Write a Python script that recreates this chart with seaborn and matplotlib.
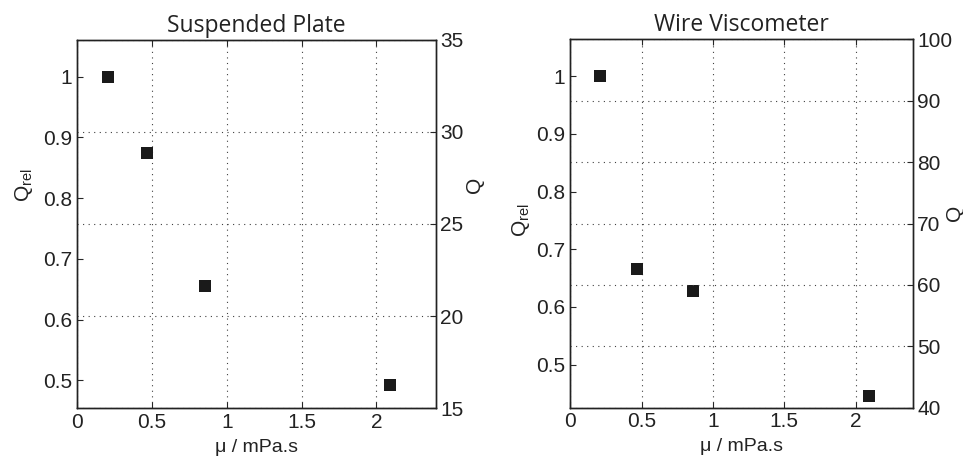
import numpy as np
import pandas as pd
import matplotlib.pyplot as plt
import seaborn as sns
from matplotlib.ticker import FuncFormatter

titles = ["Suspended Plate", "Wire Viscometer"]
mu_plate = [0.205, 0.467, 0.853, 2.09]
qrel_plate = [1.0, 0.874, 0.656, 0.493]
mu_wire = [0.21, 0.466, 0.858, 2.096]
qrel_wire = [1.0, 0.6655, 0.627, 0.445]
q_ref = [33.0, 94.0]          # Q at Q_rel = 1
q_limits = [(15, 35), (40, 100)]
q_ticks = [[15, 20, 25, 30, 35], [40, 50, 60, 70, 80, 90, 100]]
qrel_ticks = [0.5, 0.6, 0.7, 0.8, 0.9, 1.0]
mu_ticks = [0, 0.5, 1, 1.5, 2]

sns.set_style("ticks")
plt.rcParams["font.family"] = ["Liberation Sans", "DejaVu Sans"]
plt.rcParams["mathtext.fontset"] = "custom"
plt.rcParams["mathtext.rm"] = "Liberation Sans"

fig = plt.figure(figsize=(9.63, 4.59), dpi=100)
boxes = [[0.080, 0.111, 0.373, 0.802], [0.592, 0.112, 0.356, 0.802]]
datasets = [(mu_plate, qrel_plate), (mu_wire, qrel_wire)]
# label placement (axes coords) as in the reference
qrel_lab = [(-0.118, 0.606), (-0.112, 0.509)]
q_lab = [(1.081, 0.606), (1.094, 0.528)]
fmt = FuncFormatter(lambda v, p: "%g" % v)
grid_kw = dict(color="0.25", linestyle=(0, (1, 4)), linewidth=0.8)

for i in range(2):
    ax = fig.add_axes(boxes[i])
    mu, qrel = datasets[i]
    df = pd.DataFrame({"mu": mu, "qrel": qrel})
    sns.scatterplot(data=df, x="mu", y="qrel", marker="s", s=70,
                    color="#1a1a1a", edgecolor="#1a1a1a", linewidth=0, ax=ax, zorder=3)
    lo, hi = q_limits[i]
    ax.set_xlim(0, 2.4)
    ax.set_ylim(lo / q_ref[i], hi / q_ref[i])
    ax.set_xticks(mu_ticks)
    ax.set_yticks(qrel_ticks)
    ax.xaxis.set_major_formatter(fmt)
    ax.yaxis.set_major_formatter(fmt)
    ax.tick_params(direction="in", length=4, width=0.8, labelsize=15,
                   top=True, right=False, colors="0.15", labelcolor="#222222")
    ax.xaxis.grid(True, **grid_kw)
    ax.set_xlabel("μ / mPa.s", fontsize=14, color="#222222", labelpad=5)
    ax.set_ylabel(r"Q$_{\mathrm{rel}}$", fontsize=15, color="#222222")
    ax.yaxis.set_label_coords(*qrel_lab[i])
    ax.set_title(titles[i], fontsize=16.5, family="Open Sans", color="#222222", pad=6)

    ax2 = ax.twinx()
    ax2.set_ylim(lo, hi)
    ax2.set_yticks(q_ticks[i])
    ax2.yaxis.set_major_formatter(fmt)
    ax2.tick_params(direction="in", length=4, width=0.8, labelsize=15,
                    colors="0.15", labelcolor="#222222", pad=3)
    ax2.yaxis.grid(True, **grid_kw)
    ax2.set_ylabel("Q", fontsize=15, color="#222222", rotation=90)
    ax2.yaxis.set_label_coords(*q_lab[i])
    for a in (ax, ax2):
        for s in a.spines.values():
            s.set_visible(True)
            s.set_linewidth(1.0)
            s.set_color("#222222")

fig.savefig("out.png", dpi=100)
